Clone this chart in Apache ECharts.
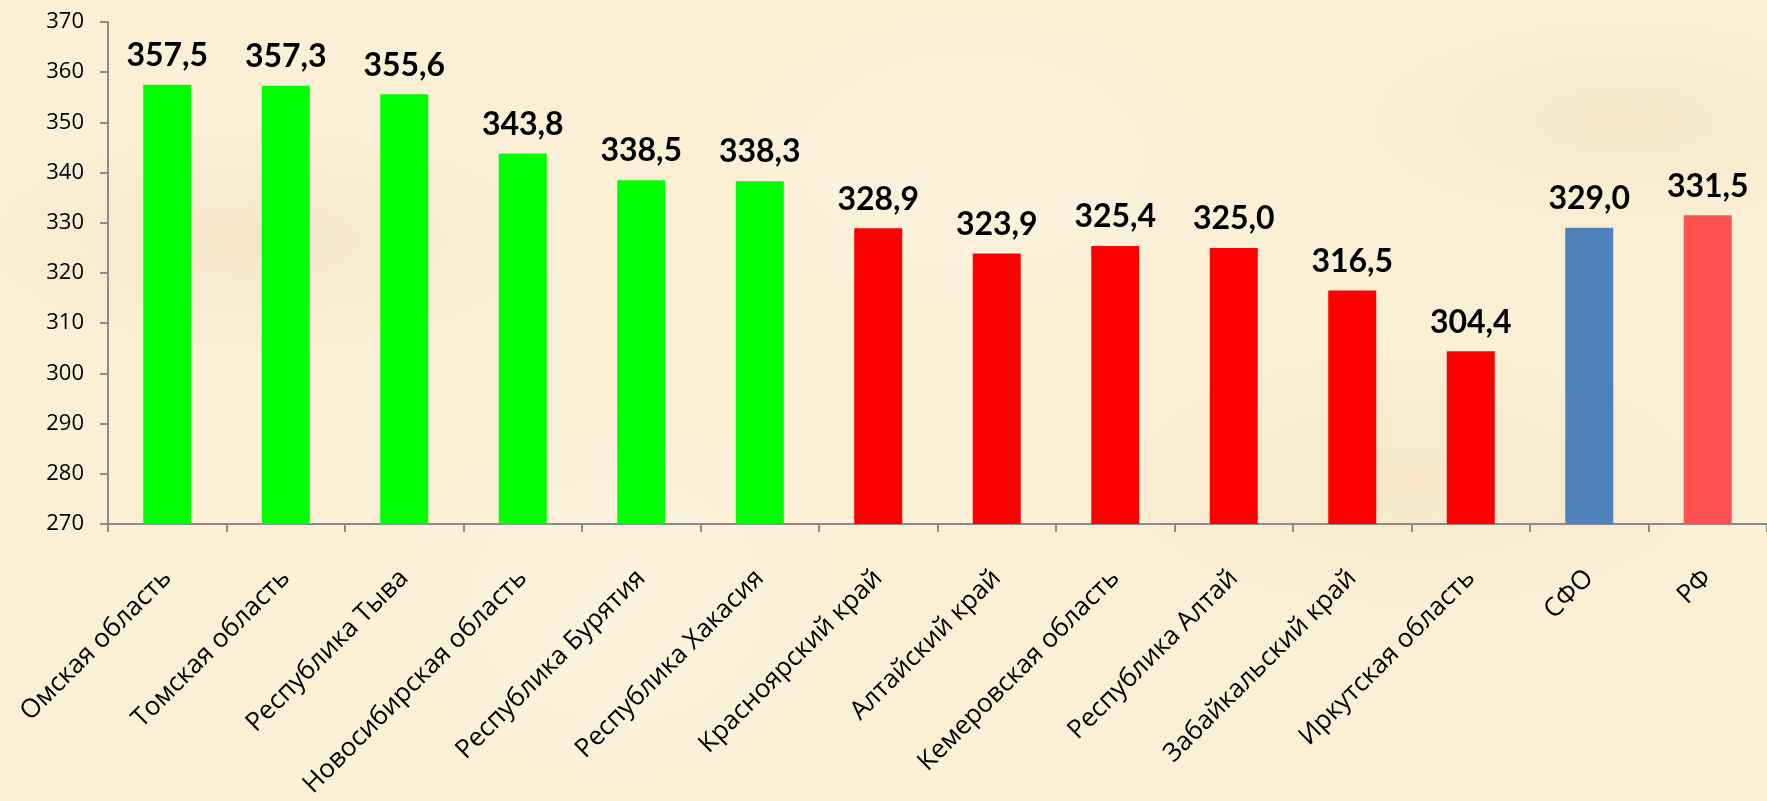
<!DOCTYPE html>
<html>
<head>
<meta charset="utf-8">
<script src="https://cdn.jsdelivr.net/npm/echarts@6/dist/echarts.min.js"></script>
<style>
  html, body { margin: 0; padding: 0; }
  body {
    width: 1767px; height: 801px; overflow: hidden;
    background-color: #fbefd6;
    background-image:
      radial-gradient(ellipse 300px 120px at 15% 30%, rgba(240,222,185,0.5), transparent),
      radial-gradient(ellipse 260px 160px at 55% 20%, rgba(255,247,230,0.6), transparent),
      radial-gradient(ellipse 320px 140px at 80% 60%, rgba(238,220,180,0.4), transparent),
      radial-gradient(ellipse 240px 200px at 35% 75%, rgba(255,246,228,0.6), transparent),
      radial-gradient(ellipse 280px 110px at 92% 15%, rgba(236,218,178,0.4), transparent);
  }
  #chart { width: 1767px; height: 801px; }
</style>
</head>
<body>
<div id="chart"></div>
<script>
const regions = [
  'Омская область', 'Томская область', 'Республика Тыва', 'Новосибирская область',
  'Республика Бурятия', 'Республика Хакасия', 'Красноярский край', 'Алтайский край',
  'Кемеровская область', 'Республика Алтай', 'Забайкальский край', 'Иркутская область',
  'СФО', 'РФ'
];
const values = [357.5, 357.3, 355.6, 343.8, 338.5, 338.3, 328.9, 323.9, 325.4, 325.0, 316.5, 304.4, 329.0, 331.5];
const barColors = [
  '#00ff00', '#00ff00', '#00ff00', '#00ff00', '#00ff00', '#00ff00',
  '#ff0000', '#ff0000', '#ff0000', '#ff0000', '#ff0000', '#ff0000',
  '#4f81bd', '#ff5050'
];

const chart = echarts.init(document.getElementById('chart'));
const axisColor = '#8c8c8c';

chart.setOption({
  backgroundColor: 'transparent',
  animation: false,
  grid: { left: 108, top: 22, width: 1667, height: 502 },
  xAxis: {
    type: 'category',
    data: regions,
    axisLine: { lineStyle: { color: axisColor, width: 2 } },
    axisTick: { show: true, length: 8, lineStyle: { color: axisColor, width: 2 } },
    axisLabel: {
      rotate: 45,
      interval: 0,
      margin: 50,
      color: '#000',
      fontSize: 26,
      fontFamily: 'Open Sans'
    }
  },
  yAxis: {
    type: 'value',
    min: 270,
    max: 370,
    interval: 10,
    splitLine: { show: false },
    axisLine: { show: true, lineStyle: { color: axisColor, width: 2 } },
    axisTick: { show: true, length: 8, lineStyle: { color: axisColor, width: 2 } },
    axisLabel: { color: '#000', fontSize: 22, fontFamily: 'Open Sans', margin: 24 }
  },
  series: [{
    type: 'bar',
    barWidth: 48,
    data: values.map((v, i) => ({ value: v, itemStyle: { color: barColors[i] } })),
    label: {
      show: true,
      position: 'top',
      distance: 13,
      color: '#000',
      fontSize: 32,
      fontWeight: 'bold',
      fontFamily: 'Lato',
      formatter: p => p.value.toFixed(1).replace('.', ',')
    }
  }]
});
</script>
</body>
</html>
